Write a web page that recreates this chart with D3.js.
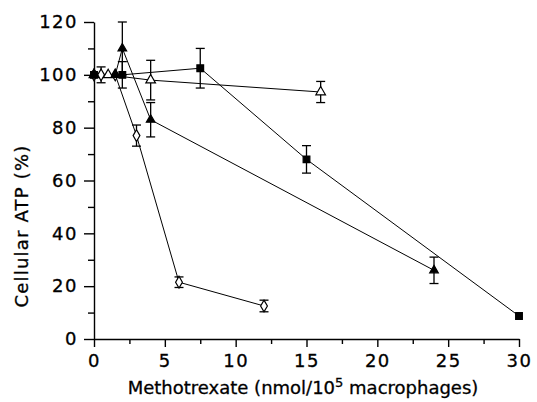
<!DOCTYPE html>
<html>
<head>
<meta charset="utf-8">
<script src="https://cdn.jsdelivr.net/npm/d3@7"></script>
<style>
  body { margin: 0; background: #fff; }
  text { font-family: "DejaVu Sans", sans-serif; fill: #000; stroke: #000; stroke-width: 0.3px; }
</style>
</head>
<body>
<svg width="537" height="402"></svg>
<script>
// doses (nmol/10^5 macrophages) and ATP (% of control)
const squareX = [0, 2, 7.5, 15, 30];
const squareY = [100, 100, 102.5, 68, 8.7];
const squareErr = [0, 5, 7.5, 5.2, 0];

const filledTriX = [0, 1.5, 2, 4, 24];
const filledTriY = [100, 100, 110, 83, 26];
const filledTriErr = [0, 0, 10, 6.5, 5];

const openTriX = [0, 1, 4, 16];
const openTriY = [100, 100, 98, 93.5];
const openTriErr = [0, 0, 7.5, 4];

const diamondX = [0, 0.5, 1.5, 3, 6, 12];
const diamondY = [100, 100, 100, 77, 21.5, 12.5];
const diamondErr = [0, 3, 0, 4, 2, 2.2];

const xTicks = [0, 5, 10, 15, 20, 25, 30];
const xMinor = [2.5, 7.5, 12.5, 17.5, 22.5, 27.5];
const yTicks = [0, 20, 40, 60, 80, 100, 120];
const yMinor = [10, 30, 50, 70, 90, 110];

const svg = d3.select('svg');

const x = d3.scaleLinear().domain([0, 30]).range([94, 519]);
const y = d3.scaleLinear().domain([0, 120]).range([339, 22]);

// x axis
const gx = svg.append('g').attr('transform', `translate(0,${y(0)})`);
gx.call(d3.axisBottom(x).tickValues(xTicks).tickSize(8).tickSizeOuter(0).tickPadding(7));
gx.append('g').call(d3.axisBottom(x).tickValues(xMinor).tickSize(5).tickFormat(''))
  .select('.domain').remove();

// y axis
const gy = svg.append('g').attr('transform', `translate(${x(0)},0)`);
gy.call(d3.axisLeft(y).tickValues(yTicks).tickSize(10).tickSizeOuter(0).tickPadding(6));
gy.append('g').call(d3.axisLeft(y).tickValues(yMinor).tickSize(6).tickFormat(''))
  .select('.domain').remove();

svg.selectAll('.domain, .tick line').attr('stroke', '#000').attr('stroke-width', 1.4);
svg.selectAll('.tick text').style('font-size', '18px').style('letter-spacing', '1.5px');

// titles
svg.append('text')
  .attr('x', 303).attr('y', 394)
  .attr('text-anchor', 'middle')
  .style('font-size', '18px')
  .html('Methotrexate (nmol/10<tspan dy="-7" style="font-size:13px">5</tspan><tspan dy="7"> macrophages)</tspan>');

svg.append('text')
  .attr('transform', 'translate(28,226) rotate(-90)')
  .attr('text-anchor', 'middle')
  .style('font-size', '18px')
  .style('letter-spacing', '1.2px')
  .text('Cellular ATP (%)');

const series = [
  {xs: diamondX, ys: diamondY, es: diamondErr, sym: d3.symbolDiamond, size: 40, fill: '#fff'},
  {xs: openTriX, ys: openTriY, es: openTriErr, sym: d3.symbolTriangle, size: 40, fill: '#fff'},
  {xs: filledTriX, ys: filledTriY, es: filledTriErr, sym: d3.symbolTriangle, size: 32, fill: '#000'},
  {xs: squareX, ys: squareY, es: squareErr, sym: d3.symbolSquare, size: 45, fill: '#000'}
];

const line = d3.line().x(d => x(d[0])).y(d => y(d[1]));

series.forEach(s => {
  const pts = s.xs.map((v, i) => [v, s.ys[i], s.es[i]]);
  svg.append('path')
    .attr('d', line(pts))
    .attr('fill', 'none')
    .attr('stroke', '#000')
    .attr('stroke-width', 1);

  const eb = svg.append('g').attr('stroke', '#000').attr('stroke-width', 1.3);
  pts.filter(d => d[2] > 0).forEach(d => {
    eb.append('line').attr('x1', x(d[0])).attr('x2', x(d[0]))
      .attr('y1', y(d[1] - d[2])).attr('y2', y(d[1] + d[2]));
    [d[1] - d[2], d[1] + d[2]].forEach(v => {
      eb.append('line').attr('x1', x(d[0]) - 4.5).attr('x2', x(d[0]) + 4.5)
        .attr('y1', y(v)).attr('y2', y(v));
    });
  });
});

series.forEach(s => {
  svg.append('g').selectAll('path')
    .data(s.xs.map((v, i) => [v, s.ys[i]]))
    .join('path')
    .attr('transform', d => `translate(${x(d[0])},${y(d[1])})`)
    .attr('d', d3.symbol().type(s.sym).size(s.size))
    .attr('fill', s.fill)
    .attr('stroke', '#000')
    .attr('stroke-width', 1.2);
});
</script>
</body>
</html>
